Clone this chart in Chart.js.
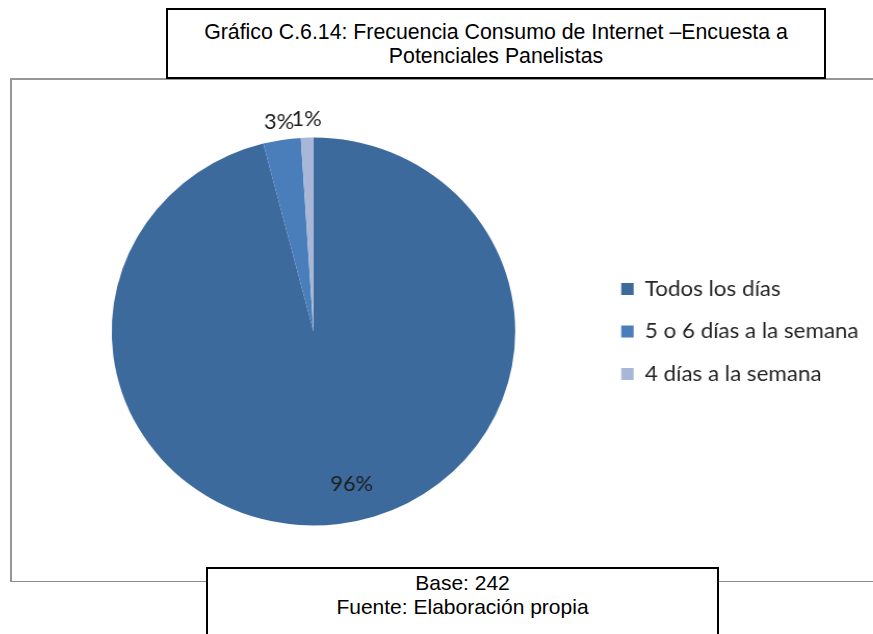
<!DOCTYPE html>
<html lang="es">
<head>
<meta charset="utf-8">
<title>Frecuencia Consumo de Internet</title>
<script src="https://cdn.jsdelivr.net/npm/chart.js@4"></script>
<style>
  html, body { margin: 0; padding: 0; background: #fff; width: 873px; height: 634px; overflow: hidden; }
  .frame {
    position: absolute; left: 10px; top: 78px; width: 900px; height: 501px;
    border-left: 2px solid #969696; border-top: 2px solid #969696; border-bottom: 1px solid #8c8c8c;
  }
  /* the plot is stretched a little wider than tall, like the original export */
  .plot { position: absolute; left: 12px; top: 80px; width: 834px; height: 500px; transform: scaleX(1.04); transform-origin: 0 0; }
  .caption {
    position: absolute; background: #fff; border: 2px solid #000; box-sizing: border-box;
    font-family: "Liberation Sans", Arial, sans-serif; font-size: 21px; line-height: 24px;
    text-align: center; color: #000;
  }
  .title { left: 166px; top: 8px; width: 660px; height: 71px; padding-top: 10px; font-size: 21.3px; }
  .source { left: 206px; top: 567px; width: 513px; height: 90px; padding-top: 2px; }
</style>
</head>
<body>
<div class="frame"></div>
<div class="plot"><canvas id="pieChart" width="834" height="500"></canvas></div>
<div class="caption title">Gráfico C.6.14: Frecuencia Consumo de Internet –Encuesta a<br>Potenciales Panelistas</div>
<div class="caption source">Base: 242<br>Fuente: Elaboración propia</div>

<script>
const categories = ['Todos los días', '5 o 6 días a la semana', '4 días a la semana'];
const shares = [96, 3, 1];
const sliceColors = ['#3c6a9d', '#4a7ebb', '#a8b7d8'];

// small slices get their label outside the rim, big ones inside
const insideTurn = -0.11;

const percentLabels = {
    id: 'percentLabels',
    afterDatasetsDraw(chart) {
        const ctx = chart.ctx;
        const values = chart.data.datasets[0].data;
        ctx.save();
        ctx.font = '21px Lato';
        ctx.fillStyle = '#1e1e1e';
        ctx.textAlign = 'center';
        ctx.textBaseline = 'middle';
        chart.getDatasetMeta(0).data.forEach((arc, i) => {
            const p = arc.getProps(['x', 'y', 'startAngle', 'endAngle', 'outerRadius'], true);
            let angle = (p.startAngle + p.endAngle) / 2;
            let dist;
            if (values[i] >= 10) {
                angle += insideTurn;
                dist = p.outerRadius * 0.81;
            } else {
                dist = p.outerRadius + 18;
            }
            ctx.fillText(values[i] + '%', p.x + Math.cos(angle) * dist, p.y + Math.sin(angle) * dist);
        });
        ctx.restore();
    }
};

const pieCtx = document.getElementById('pieChart').getContext('2d');
new Chart(pieCtx, {
    type: 'pie',
    data: {
        labels: categories,
        datasets: [{
            data: shares,
            backgroundColor: sliceColors,
            borderWidth: 0,
            hoverOffset: 0,
            radius: 194
        }]
    },
    options: {
        responsive: false,
        animation: false,
        devicePixelRatio: 1,
        layout: {
            padding: { top: 4, bottom: 1, left: 15, right: 10 }
        },
        plugins: {
            legend: {
                position: 'right',
                align: 'center',
                labels: {
                    boxWidth: 12,
                    boxHeight: 12,
                    padding: 21,
                    color: '#262626',
                    font: { family: 'Lato', size: 21.5 }
                }
            },
            tooltip: { enabled: false }
        }
    },
    plugins: [percentLabels]
});
</script>
</body>
</html>
